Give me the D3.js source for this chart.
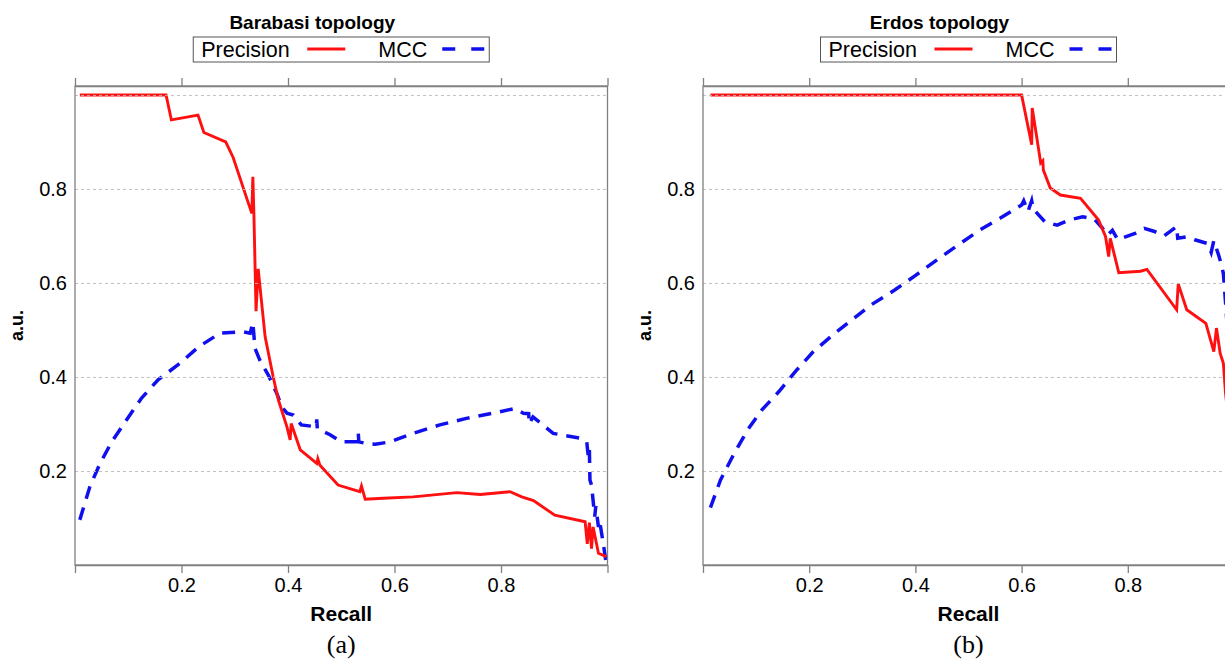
<!DOCTYPE html>
<html>
<head>
<meta charset="utf-8">
<script src="https://cdn.jsdelivr.net/npm/d3@7"></script>
<style>
  html, body { margin: 0; padding: 0; background: #fff; }
  svg { display: block; }
  text { font-family: "Liberation Sans", Arial, Helvetica, sans-serif; fill: #000; }
</style>
</head>
<body>
<svg id="chart" width="1225" height="659"></svg>
<script>
// ---- Barabasi topology ----
const baPrecRecall = [0.009, 0.171, 0.181, 0.231, 0.242, 0.283, 0.297, 0.332, 0.334, 0.336, 0.340, 0.344, 0.357, 0.372, 0.382, 0.398, 0.404, 0.406, 0.423, 0.454, 0.456, 0.460, 0.494, 0.535, 0.538, 0.545, 0.579, 0.635, 0.717, 0.761, 0.817, 0.839, 0.861, 0.901, 0.958, 0.962, 0.966, 0.970, 0.973, 0.983, 0.998];
const baPrecision    = [1.000, 1.000, 0.947, 0.957, 0.920, 0.900, 0.867, 0.748, 0.826, 0.745, 0.540, 0.630, 0.486, 0.401, 0.351, 0.294, 0.266, 0.301, 0.245, 0.216, 0.226, 0.212, 0.170, 0.156, 0.168, 0.140, 0.142, 0.145, 0.154, 0.150, 0.156, 0.145, 0.137, 0.106, 0.092, 0.045, 0.090, 0.035, 0.081, 0.025, 0.018];
const baMccRecall  = [0.009, 0.028, 0.047, 0.069, 0.097, 0.125, 0.156, 0.197, 0.232, 0.272, 0.316, 0.329, 0.334, 0.338, 0.347, 0.363, 0.379, 0.388, 0.398, 0.410, 0.425, 0.453, 0.454, 0.455, 0.479, 0.500, 0.531, 0.532, 0.533, 0.545, 0.564, 0.592, 0.635, 0.685, 0.735, 0.785, 0.826, 0.842, 0.852, 0.853, 0.860, 0.898, 0.948, 0.961, 0.964, 0.966, 0.967, 0.970, 0.976, 0.978, 0.983, 0.985, 0.992, 0.998];
const baMcc        = [0.096, 0.167, 0.216, 0.262, 0.309, 0.355, 0.394, 0.429, 0.464, 0.493, 0.496, 0.493, 0.516, 0.461, 0.436, 0.404, 0.365, 0.337, 0.323, 0.319, 0.298, 0.294, 0.310, 0.290, 0.277, 0.262, 0.262, 0.280, 0.262, 0.259, 0.257, 0.262, 0.280, 0.298, 0.312, 0.323, 0.333, 0.323, 0.322, 0.300, 0.315, 0.280, 0.270, 0.262, 0.230, 0.245, 0.181, 0.170, 0.103, 0.125, 0.081, 0.095, 0.046, 0.000];

// ---- Erdos topology ----
const erPrecRecall = [0.014, 0.600, 0.619, 0.620, 0.636, 0.640, 0.641, 0.654, 0.673, 0.711, 0.745, 0.758, 0.764, 0.767, 0.783, 0.824, 0.836, 0.892, 0.895, 0.911, 0.947, 0.962, 0.967, 0.974, 0.980, 0.984, 1.000];
const erPrecision    = [1.000, 1.000, 0.894, 0.972, 0.855, 0.860, 0.840, 0.802, 0.787, 0.780, 0.734, 0.699, 0.656, 0.695, 0.622, 0.625, 0.629, 0.543, 0.598, 0.543, 0.514, 0.454, 0.504, 0.450, 0.429, 0.366, 0.200];
const erMccRecall  = [0.014, 0.033, 0.059, 0.085, 0.111, 0.143, 0.175, 0.207, 0.245, 0.316, 0.361, 0.399, 0.438, 0.483, 0.522, 0.560, 0.600, 0.604, 0.612, 0.619, 0.622, 0.635, 0.644, 0.667, 0.690, 0.715, 0.737, 0.752, 0.762, 0.771, 0.781, 0.815, 0.831, 0.849, 0.868, 0.892, 0.894, 0.911, 0.926, 0.950, 0.957, 0.962, 0.972, 0.977, 0.980, 0.984, 1.000];
const erMcc        = [0.122, 0.181, 0.238, 0.289, 0.330, 0.369, 0.413, 0.453, 0.490, 0.553, 0.585, 0.615, 0.647, 0.683, 0.713, 0.738, 0.766, 0.775, 0.752, 0.775, 0.757, 0.741, 0.730, 0.723, 0.734, 0.741, 0.736, 0.717, 0.702, 0.712, 0.692, 0.706, 0.716, 0.710, 0.700, 0.720, 0.695, 0.698, 0.692, 0.684, 0.665, 0.690, 0.656, 0.635, 0.620, 0.560, 0.300];

// ---- Axis ticks ----
const xTicks = [0, 0.2, 0.4, 0.6, 0.8, 1.0];
const xTickLabels = ["", "0.2", "0.4", "0.6", "0.8", ""];
const yTicks = [0.2, 0.4, 0.6, 0.8];
const yTickLabels = ["0.2", "0.4", "0.6", "0.8"];
const gridValues = [0.2, 0.4, 0.6, 0.8, 1.0];

const panels = [
  { title: "Barabasi topology", tag: "(a)", left: 75, right: 607.5,
    precRecall: baPrecRecall, precision: baPrecision, mccRecall: baMccRecall, mcc: baMcc },
  { title: "Erdos topology", tag: "(b)", left: 703, right: 1234,
    precRecall: erPrecRecall, precision: erPrecision, mccRecall: erMccRecall, mcc: erMcc }
];

const svg = d3.select("#chart");
svg.append("rect").attr("width", 1225).attr("height", 659).attr("fill", "#fff");

const plotTop = 86, plotBottom = 565;
const frameColor = "#808080";
const red = "#ff1010", blue = "#1010ee";

panels.forEach((p, i) => {
  const x = d3.scaleLinear().domain([0, 1]).range([p.left, p.right]);
  const y = d3.scaleLinear().domain([0, 1.019]).range([plotBottom, plotTop]);
  const g = svg.append("g");
  const cx = (p.left + p.right) / 2;
  const clipId = "clip" + i;

  g.append("clipPath").attr("id", clipId)
    .append("rect").attr("x", p.left).attr("y", plotTop)
    .attr("width", p.right - p.left).attr("height", plotBottom - plotTop);

  // data lines
  const line = d3.line().x(d => x(d[0])).y(d => y(d[1]));
  const plot = g.append("g").attr("clip-path", `url(#${clipId})`);
  plot.append("path")
    .datum(p.mccRecall.map((r, k) => [r, p.mcc[k]]))
    .attr("d", line).attr("fill", "none")
    .attr("stroke", blue).attr("stroke-width", 3.5)
    .attr("stroke-dasharray", "13,9");
  plot.append("path")
    .datum(p.precRecall.map((r, k) => [r, p.precision[k]]))
    .attr("d", line).attr("fill", "none")
    .attr("stroke", red).attr("stroke-width", 2.9)
    .attr("stroke-linejoin", "miter");

  // horizontal dotted grid
  const grid = g.append("g")
    .attr("transform", `translate(${p.left},0)`)
    .call(d3.axisLeft(y).tickValues(gridValues).tickSize(-(p.right - p.left)).tickFormat(""));
  grid.select(".domain").remove();
  grid.selectAll("line").attr("stroke", "#b8b8b8").attr("stroke-width", 1)
    .attr("stroke-dasharray", "3,3").attr("opacity", 0.9);

  // frame
  g.append("rect").attr("x", p.left).attr("y", plotTop)
    .attr("width", p.right - p.left).attr("height", plotBottom - plotTop)
    .attr("fill", "none").attr("stroke", frameColor).attr("stroke-width", 1.3);

  // bottom axis
  const xb = g.append("g").attr("transform", `translate(0,${plotBottom})`)
    .call(d3.axisBottom(x).tickValues(xTicks).tickSize(8).tickSizeOuter(0)
      .tickFormat((d, k) => xTickLabels[k]));
  xb.select(".domain").attr("stroke", frameColor).attr("stroke-width", 1.3);
  xb.selectAll("line").attr("stroke", frameColor).attr("stroke-width", 1.3);
  xb.selectAll("text").attr("font-size", 20).attr("dy", 0).attr("y", 27)
    .attr("font-family", "Liberation Sans, Arial, sans-serif").attr("fill", "#111");

  // top axis (ticks only)
  const xt = g.append("g").attr("transform", `translate(0,${plotTop})`)
    .call(d3.axisTop(x).tickValues(xTicks).tickSize(8).tickSizeOuter(0).tickFormat(""));
  xt.select(".domain").attr("stroke", frameColor).attr("stroke-width", 1.3);
  xt.selectAll("line").attr("stroke", frameColor).attr("stroke-width", 1.3);

  // left axis labels
  const yl = g.append("g").attr("transform", `translate(${p.left},0)`)
    .call(d3.axisLeft(y).tickValues(yTicks).tickSize(0).tickPadding(8)
      .tickFormat((d, k) => yTickLabels[k]));
  yl.select(".domain").remove();
  yl.selectAll("text").attr("font-size", 20)
    .attr("font-family", "Liberation Sans, Arial, sans-serif").attr("fill", "#111");

  // axis titles
  g.append("text").attr("transform", `translate(${p.left - 52},${(plotTop + plotBottom) / 2}) rotate(-90)`)
    .attr("text-anchor", "middle").attr("font-size", 18).attr("font-weight", "bold")
    .text("a.u.");
  g.append("text").attr("x", cx).attr("y", 621)
    .attr("text-anchor", "middle").attr("font-size", 21).attr("font-weight", "bold")
    .text("Recall");
  g.append("text").attr("x", cx).attr("y", 653)
    .attr("text-anchor", "middle").attr("font-size", 26)
    .style("font-family", "'Liberation Serif', 'Times New Roman', serif")
    .text(p.tag);

  // title
  g.append("text").attr("x", cx - 29).attr("y", 29)
    .attr("text-anchor", "middle").attr("font-size", 19).attr("font-weight", "bold")
    .text(p.title);

  // legend
  const lw = 296, lx = cx - lw / 2, ly = 37;
  const lg = g.append("g");
  lg.append("rect").attr("x", lx).attr("y", ly).attr("width", lw).attr("height", 25)
    .attr("fill", "#fff").attr("stroke", "#555").attr("stroke-width", 1);
  lg.append("text").attr("x", lx + 8).attr("y", ly + 20).attr("font-size", 21.5).text("Precision");
  lg.append("line").attr("x1", lx + 114).attr("x2", lx + 152).attr("y1", ly + 12).attr("y2", ly + 12)
    .attr("stroke", red).attr("stroke-width", 3);
  lg.append("text").attr("x", lx + 185).attr("y", ly + 20).attr("font-size", 21.5).text("MCC");
  lg.append("line").attr("x1", lx + 249).attr("x2", lx + 291).attr("y1", ly + 12).attr("y2", ly + 12)
    .attr("stroke", blue).attr("stroke-width", 3.5).attr("stroke-dasharray", "13,16");
});
</script>
</body>
</html>
